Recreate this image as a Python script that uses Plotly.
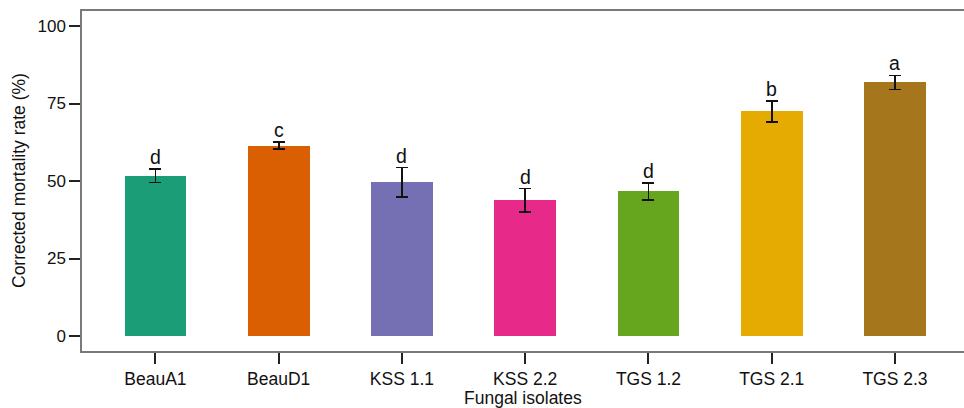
import plotly.graph_objects as go

# Corrected mortality by fungal isolate (mean ± SE) with significance letters
isolates = ["BeauA1", "BeauD1", "KSS 1.1", "KSS 2.2", "TGS 1.2", "TGS 2.1", "TGS 2.3"]
mortality = [51.7, 61.4, 49.6, 43.8, 46.7, 72.5, 81.8]
std_err = [2.2, 1.1, 4.7, 3.75, 2.75, 3.4, 2.25]
groups = ["d", "c", "d", "d", "d", "b", "a"]
bar_colors = ["#1B9E77", "#D95F02", "#7570B3", "#E7298A", "#66A61E", "#E6AB02", "#A6761D"]
y_ticks = [0, 25, 50, 75, 100]

FONT = "Liberation Sans, Arial, Helvetica, sans-serif"
positions = list(range(len(isolates)))

fig = go.Figure()
fig.add_trace(go.Bar(
    x=positions,
    y=mortality,
    width=0.5,
    marker=dict(color=bar_colors, line=dict(width=0)),
    error_y=dict(type="data", array=std_err, visible=True,
                 color="#111111", thickness=1.6, width=6),
    hoverinfo="skip",
))

# Significance letters sit just above each error bar
for xi, m, se, g in zip(positions, mortality, std_err, groups):
    fig.add_annotation(x=xi, y=m + se, text=g, showarrow=False,
                       xanchor="center", yanchor="bottom", yshift=-1,
                       font=dict(family=FONT, size=19.5, color="#111111"))

# Axis titles
fig.add_annotation(xref="paper", yref="paper", x=0.5, y=0, yshift=-47,
                   text="Fungal isolates", showarrow=False,
                   xanchor="center", yanchor="middle",
                   font=dict(family=FONT, size=17.5, color="#111111"))
fig.add_annotation(xref="paper", yref="paper", x=0, xshift=-63, y=0.5,
                   text="Corrected mortality rate (%)", showarrow=False,
                   textangle=-90, xanchor="center", yanchor="middle",
                   font=dict(family=FONT, size=17.5, color="#111111"))

fig.update_layout(
    width=964, height=408,
    margin=dict(l=82, r=0, t=11, b=57),
    paper_bgcolor="white", plot_bgcolor="white",
    showlegend=False,
    bargap=0,
    font=dict(family=FONT, size=17, color="#111111"),
)
fig.update_xaxes(
    range=[-0.596, 6.56],
    tickmode="array", tickvals=positions, ticktext=isolates,
    showline=True, linecolor="#7a7a7a", linewidth=1.5, mirror=True,
    ticks="outside", ticklen=11, tickwidth=1.5, tickcolor="#222222",
    showgrid=False, zeroline=False,
    tickfont=dict(family=FONT, size=17.5, color="#111111"),
)
fig.update_yaxes(
    range=[-4.84, 104.84],
    tickmode="array", tickvals=y_ticks,
    showline=True, linecolor="#7a7a7a", linewidth=1.5, mirror=False,
    ticks="outside", ticklen=11, tickwidth=1.5, tickcolor="#222222",
    showgrid=False, zeroline=False,
    tickfont=dict(family=FONT, size=17, color="#111111"),
)

fig.write_html("out.html")
